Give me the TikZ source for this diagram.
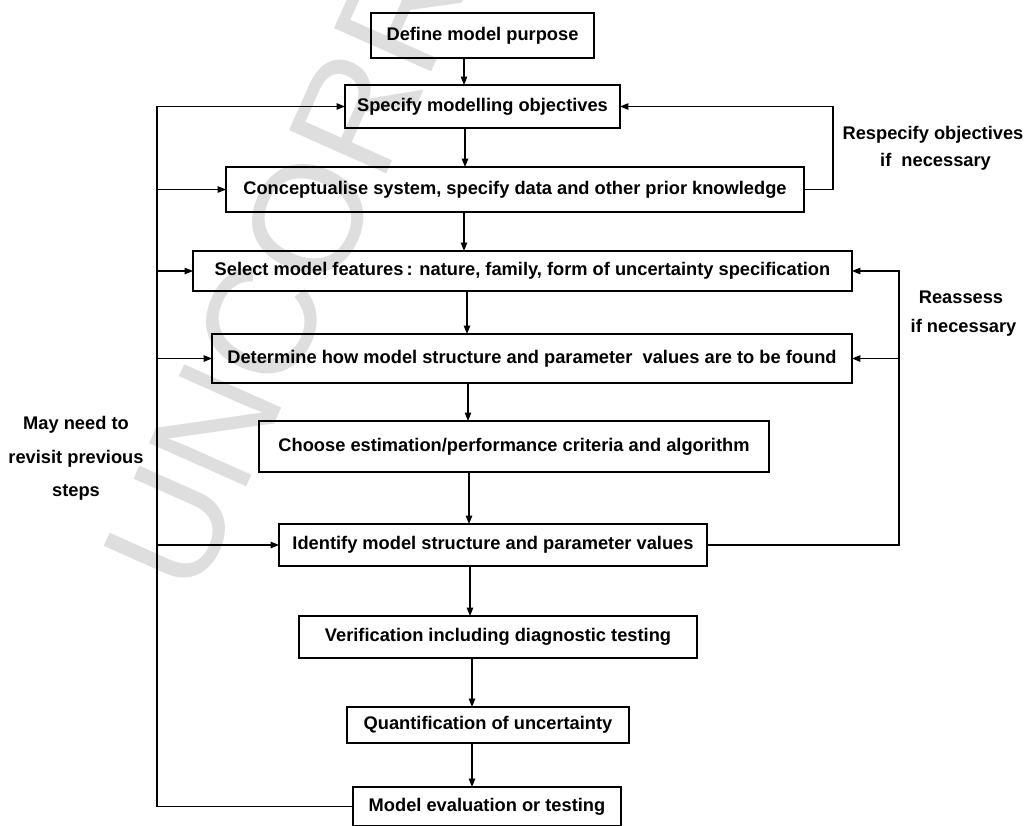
\documentclass[tikz,border=0pt]{standalone}
\usepackage{fontspec}
\setmainfont{Liberation Sans}
\usetikzlibrary{arrows.meta}
\tikzstyle{block}=[draw,line width=0.8pt,inner sep=0pt,outer sep=0pt,font=\bfseries\fontsize{10.4}{12}\selectfont]
\tikzstyle{link}=[draw,line width=0.7pt]
\tikzstyle{arr}=[link,-{Triangle[length=1.7mm,width=1.3mm]}]
\tikzstyle{note}=[align=center,inner sep=0pt]

\begin{document}
\begin{tikzpicture}[x=0.02cm,y=-0.02cm]
    \useasboundingbox (0,0) rectangle (1024,825);
    \clip (0,0) rectangle (1024,825);
    % watermark
    \node[rotate=66,text=black!13,font=\fontsize{88}{88}\selectfont] (mark) at (392,30) {UNCORRECTED};
    % steps
    \node[block,minimum width=4.46cm,minimum height=0.90cm] (n1) at (482.5,35.5) {Define model purpose};
    \node[block,minimum width=5.50cm,minimum height=0.86cm] (n2) at (482.5,106.5) {Specify modelling objectives};
    \node[block,minimum width=11.56cm,minimum height=0.90cm] (n3) at (515,189.5) {Conceptualise system, specify data and other prior knowledge};
    \node[block,minimum width=13.18cm,minimum height=0.80cm] (n4) at (522.5,271) {Select model features\,: nature, family, form of uncertainty specification};
    \node[block,minimum width=12.80cm,minimum height=0.98cm] (n5) at (532,358.5) {Determine how model structure and parameter\ \ values are to be found};
    \node[block,minimum width=10.20cm,minimum height=1.02cm] (n6) at (514,446.5) {Choose estimation/performance criteria and algorithm};
    \node[block,minimum width=8.56cm,minimum height=0.84cm] (n7) at (493,545) {Identify model structure and parameter values};
    \node[block,minimum width=7.96cm,minimum height=0.84cm] (n8) at (498,637) {Verification including diagnostic testing};
    \node[block,minimum width=5.64cm,minimum height=0.72cm] (n9) at (488,725) {Quantification of uncertainty};
    \node[block,minimum width=5.36cm,minimum height=0.78cm] (n10) at (487,806.5) {Model evaluation or testing};
    % main flow
    \foreach \a/\b/\x in {n1/n2/464, n2/n3/465, n3/n4/464, n4/n5/467, n5/n6/468,
                          n6/n7/469, n7/n8/470, n8/n9/472, n9/n10/472}
        \draw[arr] (\a.south -| \x,0) -- (\b.north -| \x,0);
    % revisit loop on the left
    \coordinate (lt) at (157,106.5);
    \draw[arr] (n10.west) -| (lt) -- (n2.west);
    \foreach \n in {n3,n4,n5,n7}
        \draw[arr] (\n.west -| lt) -- (\n.west);
    % respecify loop
    \draw[arr] (n3.east) -- ++(29,0) |- (n2.east);
    % reassess loop
    \coordinate (rb) at (899,545);
    \draw[arr] (n7.east) -- (rb) |- (n4.east);
    \draw[arr] (n5.east -| rb) -- (n5.east);
    % notes
    \node[note,font=\bfseries\fontsize{10.4}{15.4}\selectfont] (resp) at (933,148.5) {Respecify objectives\\ \ if\ \ necessary};
    \node[note,font=\bfseries\fontsize{10.4}{16.5}\selectfont] (reas) at (961,313.5) {Reassess\\ \ if necessary};
    \node[note,font=\bfseries\fontsize{10.4}{19}\selectfont] (back) at (76,458.5) {May need to\\revisit previous\\steps};
\end{tikzpicture}
\end{document}
